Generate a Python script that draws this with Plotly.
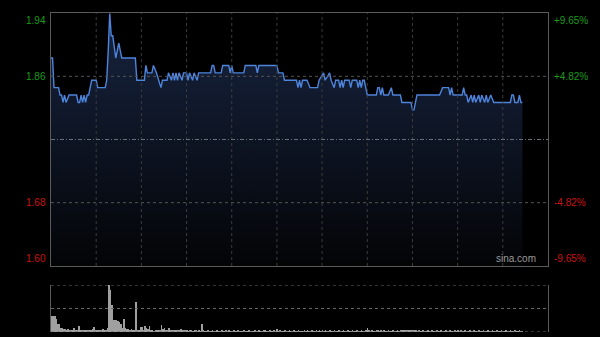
import plotly.graph_objects as go

# ---------------- data ----------------
prev_close = 1.77
pct_levels = [0.0965, 0.0482]
session_minutes = 330
grid_minutes = [30, 60, 90, 120, 150, 180, 210, 240, 270, 300]

price_minutes = [0, 1, 2, 5, 6, 7, 8, 9, 10, 12, 17, 18, 19, 20, 21, 22, 23, 24, 25, 27,
                 30, 31, 36, 37, 38, 39, 40, 41, 43, 45, 47, 56, 57, 62, 63, 64, 67, 68, 70, 73,
                 74, 77, 78, 80, 81, 82, 83, 84, 85, 87, 88, 90, 91, 92, 94, 95, 97, 98, 106, 107,
                 108, 109, 113, 114, 118, 119, 120, 121, 128, 129, 136, 137, 138, 150, 151, 154, 155, 163, 164, 165,
                 166, 167, 170, 172, 177, 178, 181, 182, 185, 186, 188, 189, 191, 192, 193, 194, 195, 198, 199, 200,
                 203, 204, 205, 206, 207, 208, 209, 210, 216, 217, 218, 219, 220, 221, 224, 226, 227, 232, 233, 239,
                 240, 241, 243, 258, 260, 264, 265, 266, 267, 273, 274, 275, 276, 277, 279, 280, 281, 282, 284, 285,
                 286, 288, 289, 290, 292, 294, 305, 306, 307, 308, 310, 311, 312, 313]
prices = [1.88, 1.88, 1.84, 1.84, 1.83, 1.83, 1.82, 1.83, 1.82, 1.83, 1.83, 1.82, 1.82, 1.83, 1.82, 1.83, 1.82, 1.83, 1.83, 1.85,
          1.85, 1.84, 1.84, 1.85, 1.89, 1.94, 1.91, 1.91, 1.88, 1.90, 1.88, 1.88, 1.85, 1.85, 1.87, 1.86, 1.86, 1.87, 1.86, 1.84,
          1.85, 1.85, 1.86, 1.85, 1.86, 1.85, 1.86, 1.85, 1.86, 1.85, 1.86, 1.86, 1.85, 1.86, 1.85, 1.86, 1.85, 1.86, 1.86, 1.87,
          1.87, 1.86, 1.86, 1.87, 1.87, 1.86, 1.87, 1.86, 1.86, 1.87, 1.87, 1.86, 1.87, 1.87, 1.86, 1.86, 1.85, 1.85, 1.84, 1.85,
          1.84, 1.85, 1.85, 1.84, 1.84, 1.85, 1.86, 1.85, 1.86, 1.85, 1.84, 1.85, 1.85, 1.84, 1.85, 1.84, 1.85, 1.85, 1.84, 1.85,
          1.85, 1.84, 1.85, 1.84, 1.85, 1.85, 1.84, 1.83, 1.83, 1.84, 1.84, 1.83, 1.84, 1.83, 1.83, 1.84, 1.83, 1.83, 1.82, 1.82,
          1.81, 1.81, 1.83, 1.83, 1.84, 1.84, 1.83, 1.84, 1.83, 1.83, 1.84, 1.83, 1.83, 1.82, 1.83, 1.82, 1.83, 1.82, 1.83, 1.82,
          1.83, 1.82, 1.83, 1.82, 1.83, 1.82, 1.82, 1.83, 1.83, 1.82, 1.82, 1.83, 1.82, 1.82]

volumes = [35, 35, 34, 28, 17, 18, 8, 8, 6, 6,
           4, 6, 5, 4, 5, 8, 4, 3, 12, 4,
           3, 3, 3, 4, 3, 5, 4, 6, 10, 5,
           4, 3, 4, 4, 6, 4, 5, 8, 100, 90,
           58, 26, 26, 25, 23, 22, 17, 8, 28, 8,
           6, 6, 5, 6, 5, 4, 63, 4, 5, 10,
           10, 4, 13, 8, 6, 13, 3, 3, 2, 5,
           4, 3, 5, 15, 6, 8, 4, 3, 8, 5,
           4, 3, 5, 4, 3, 4, 6, 3, 3, 4,
           3, 2, 3, 3, 2, 3, 3, 2, 3, 2,
           18, 3, 2, 2, 3, 2, 2, 3, 2, 2,
           3, 2, 2, 3, 2, 2, 3, 2, 5, 2,
           2, 3, 2, 2, 3, 2, 2, 2, 3, 2,
           2, 3, 2, 2, 2, 3, 2, 2, 3, 2,
           2, 3, 4, 2, 2, 3, 2, 2, 3, 2,
           7, 2, 3, 2, 2, 3, 2, 2, 4, 2,
           2, 3, 2, 2, 3, 2, 2, 2, 3, 2,
           3, 2, 2, 3, 2, 2, 4, 2, 3, 2,
           5, 2, 3, 2, 2, 3, 2, 2, 3, 2,
           2, 3, 2, 2, 3, 2, 2, 3, 2, 2,
           3, 2, 2, 3, 2, 2, 3, 2, 2, 5,
           9, 3, 2, 3, 2, 2, 4, 3, 2, 3,
           2, 3, 2, 2, 3, 2, 2, 3, 2, 2,
           3, 2, 4, 3, 5, 3, 4, 3, 5, 3,
           4, 3, 3, 2, 3, 2, 2, 3, 2, 2,
           3, 2, 2, 3, 2, 2, 3, 2, 2, 3,
           2, 2, 3, 2, 2, 3, 2, 2, 3, 2,
           4, 2, 3, 2, 2, 3, 2, 2, 3, 2,
           2, 3, 2, 2, 3, 2, 2, 3, 2, 2,
           3, 2, 2, 3, 2, 2, 3, 2, 2, 3,
           2, 2, 3, 2, 2, 3, 2, 2, 3, 2,
           2, 3, 2, 2]
volume_minutes = list(range(len(volumes)))

# ---------------- derived ----------------
y_lo = prev_close * (1 - pct_levels[0])
y_hi = prev_close * (1 + pct_levels[0])
y_grid_hi = prev_close * (1 + pct_levels[1])
y_grid_lo = prev_close * (1 - pct_levels[1])

GREEN = "#1c9c1c"
RED = "#cc1111"
FONT = "Liberation Sans, Arial, sans-serif"

fig = go.Figure()

fig.add_trace(go.Scatter(
    x=price_minutes, y=prices, mode="lines",
    line=dict(color="#4d84dc", width=1.4),
    fill="tozeroy",
    fillgradient=dict(type="vertical", start=y_lo, stop=max(prices),
                      colorscale=[[0, "#030406"], [1, "#172440"]]),
    xaxis="x", yaxis="y", hoverinfo="skip", showlegend=False,
))

fig.add_trace(go.Bar(
    x=volume_minutes, y=volumes, width=0.45,
    marker=dict(color="#a0a0a0", line=dict(width=0)),
    xaxis="x2", yaxis="y2", hoverinfo="skip", showlegend=False,
))

main_dom = [71 / 337, 324 / 337]
vol_dom = [5 / 337, 52 / 337]
x_dom = [51 / 600, 548 / 600]

fig.update_layout(
    width=600, height=337,
    margin=dict(l=0, r=0, t=0, b=0),
    paper_bgcolor="black", plot_bgcolor="black",
    bargap=0,
    xaxis=dict(domain=x_dom, range=[0, session_minutes], showgrid=False, zeroline=False,
               showticklabels=False, ticks="", showline=True, mirror=True,
               linecolor="#5a5a5a", linewidth=1, anchor="y"),
    yaxis=dict(domain=main_dom, range=[y_lo, y_hi], showgrid=False, zeroline=False,
               showticklabels=False, ticks="", showline=True, mirror=True,
               linecolor="#5a5a5a", linewidth=1, anchor="x"),
    xaxis2=dict(domain=x_dom, range=[-0.5, session_minutes], showgrid=False, zeroline=False,
                showticklabels=False, ticks="", showline=False, anchor="y2"),
    yaxis2=dict(domain=vol_dom, range=[0, max(volumes)], showgrid=False, zeroline=False,
                showticklabels=False, ticks="", showline=True, mirror=True,
                linecolor="#5a5a5a", linewidth=1, anchor="x2"),
)

shapes = []
# vertical grid lines (main)
for m in grid_minutes:
    shapes.append(dict(type="line", xref="x", yref="paper", x0=m, x1=m,
                       y0=main_dom[0], y1=main_dom[1],
                       line=dict(color="#3c3c3c", width=1, dash="dot"), layer="above"))
# horizontal grid lines
for yv in [y_grid_hi, y_grid_lo]:
    shapes.append(dict(type="line", xref="x", yref="y", x0=0, x1=session_minutes, y0=yv, y1=yv,
                       line=dict(color="#555555", width=1, dash="dot"), layer="above"))
# previous close line
shapes.append(dict(type="line", xref="x", yref="y", x0=0, x1=session_minutes,
                   y0=prev_close, y1=prev_close,
                   line=dict(color="#6a6f78", width=1, dash="4px,2px,1px,2px"), layer="above"))
# volume horizontal dotted lines (top, middle, bottom)
for frac in [0, 0.5, 1]:
    yv = frac * max(volumes)
    shapes.append(dict(type="line", xref="x2", yref="y2", x0=-0.5, x1=session_minutes, y0=yv, y1=yv,
                       line=dict(color="#6a6a6a", width=1, dash="dot"), layer="above"))
fig.update_layout(shapes=shapes)

ann = []
left_x = 48 / 600
right_x = 552 / 600
labels = [
    (y_hi, "%.2f" % y_hi, "+%.2f%%" % (pct_levels[0] * 100), GREEN, "top"),
    (y_grid_hi, "%.2f" % y_grid_hi, "+%.2f%%" % (pct_levels[1] * 100), GREEN, "middle"),
    (y_grid_lo, "%.2f" % y_grid_lo, "-%.2f%%" % (pct_levels[1] * 100), RED, "middle"),
    (y_lo, "%.2f" % y_lo, "-%.2f%%" % (pct_levels[0] * 100), RED, "bottom"),
]
for yv, lt, rt, col, ya in labels:
    ann.append(dict(xref="paper", yref="y", x=left_x, y=yv, text=lt, showarrow=False,
                    xanchor="right", yanchor=ya, font=dict(family=FONT, size=10, color=col)))
    ann.append(dict(xref="paper", yref="y", x=right_x, y=yv, text=rt, showarrow=False,
                    xanchor="left", yanchor=ya, font=dict(family=FONT, size=10, color=col)))
ann.append(dict(xref="paper", yref="y", x=538 / 600, y=y_lo, text="sina.com", showarrow=False,
                xanchor="right", yanchor="bottom", font=dict(family=FONT, size=10, color="#9a9a9a")))
fig.update_layout(annotations=ann)

fig.write_html("out.html")
